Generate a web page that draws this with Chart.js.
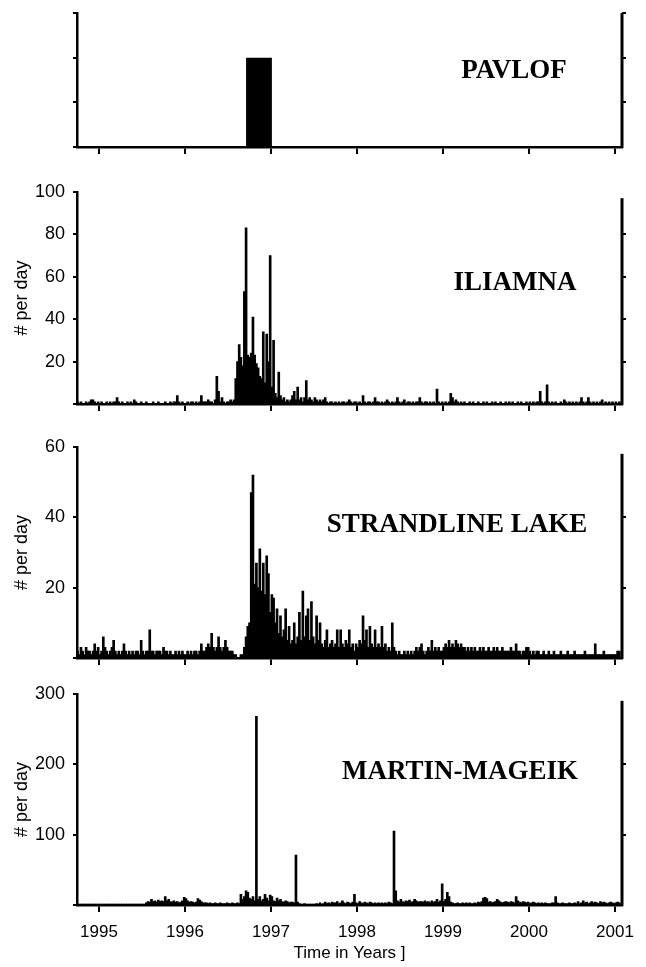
<!DOCTYPE html>
<html>
<head>
<meta charset="utf-8">
<script src="https://cdn.jsdelivr.net/npm/chart.js@4/dist/chart.umd.min.js"></script>
<style>
  body { margin: 0; background: #fff; }
  #page { position: relative; width: 646px; height: 967px; overflow: hidden; }
  canvas { position: absolute; left: 0; }
</style>
</head>
<body>
<div id="page"></div>
<script>
// ---- data -------------------------------------------------------------
// counts are read off the figure in bins of 0.02 yr, first bin centred on 1994.75
const BIN_START = 1994.75;
const BIN_WIDTH = 0.02;
const YEAR_TICKS = [1995, 1996, 1997, 1998, 1999, 2000, 2001];

// Pavlof: a single block during the 1996 eruption
const PAVLOF_START = 1996.71;
const PAVLOF_END = 1997.01;
const PAVLOF_LEVEL = 2;

const ILIAMNA_COUNTS = [
  1,0,1,0,0,1,0,1,2,2,1,0,1,0,1,0,0,1,0,1,0,1,1,3,1,
  0,1,0,0,1,0,1,0,2,1,0,0,1,0,0,1,0,0,0,1,0,0,1,0,0,
  0,1,0,0,1,0,1,1,4,1,0,1,0,0,1,0,1,1,0,1,0,1,4,1,1,
  1,2,1,1,0,2,13,6,1,3,1,0,1,1,2,1,2,12,20,28,22,18,53,83,23,
  22,24,41,23,19,17,13,12,34,10,33,20,70,8,30,5,3,15,4,2,3,1,2,1,2,
  4,6,2,8,2,3,1,3,11,2,3,2,1,3,2,1,2,1,2,3,1,0,1,1,0,
  1,0,1,0,1,1,0,1,2,1,0,1,1,0,1,0,4,1,0,1,1,0,1,3,1,
  1,0,1,0,1,2,1,0,1,0,1,3,1,0,1,2,0,1,1,0,1,0,1,1,3,
  1,0,1,1,0,1,0,1,0,7,1,0,1,0,1,0,1,5,3,1,2,1,0,1,0,
  1,0,0,1,0,1,0,0,1,0,0,1,0,1,0,0,1,0,1,0,0,1,0,0,1,
  0,1,0,1,0,0,1,0,1,0,0,1,0,1,0,1,0,1,1,6,1,0,1,9,1,
  0,1,0,1,0,0,1,0,2,1,0,1,0,1,0,1,0,1,3,1,0,1,3,1,0,
  1,0,1,0,1,2,0,1,0,1,0,1,0,1,0,1
];

const STRANDLINE_COUNTS = [
  2,1,3,2,1,3,2,2,1,2,4,2,3,1,2,6,3,2,1,2,3,5,2,1,2,
  1,2,4,2,1,2,1,2,1,2,2,1,5,2,1,2,2,8,2,2,1,2,2,2,1,
  3,2,2,1,2,1,1,2,1,2,1,2,1,1,2,1,2,1,2,2,1,2,4,2,2,
  3,4,3,7,3,2,3,6,3,2,3,5,3,2,2,2,1,1,0,0,1,1,3,6,9,
  10,47,52,21,27,20,31,19,27,18,29,24,13,18,17,10,14,7,12,6,8,14,5,9,4,
  5,10,4,6,13,5,19,6,12,14,5,16,6,4,12,5,10,4,3,5,8,3,4,5,3,
  4,8,3,8,4,3,5,4,8,3,4,2,4,3,5,4,12,5,8,3,9,4,3,8,3,
  4,3,9,3,4,2,3,2,10,3,2,1,2,1,1,2,1,2,1,2,1,2,3,2,3,
  4,2,1,2,3,2,5,2,3,2,3,2,2,3,4,3,5,3,4,3,5,4,3,4,3,
  3,2,3,2,3,2,3,2,2,3,2,3,2,2,3,2,2,3,2,3,2,2,3,2,2,
  2,2,3,2,2,4,2,2,1,2,2,3,3,2,1,2,1,2,2,1,1,2,1,1,2,
  1,1,2,1,1,1,2,1,1,1,2,1,1,1,2,1,1,1,1,1,2,1,1,1,1,
  1,4,1,1,1,1,2,1,1,1,1,1,1,1,2,2
];

const MARTIN_COUNTS = [
  1,1,1,1,1,1,1,1,1,1,1,1,1,1,1,1,1,1,1,1,1,1,1,1,1,
  1,1,1,1,1,1,1,1,1,1,1,1,1,1,1,3,5,4,8,5,6,4,7,5,6,
  5,12,6,8,5,4,6,4,5,3,4,6,11,9,6,4,5,4,3,4,9,7,5,3,3,
  3,2,3,2,2,3,2,2,3,2,2,2,3,2,2,3,2,2,3,2,15,8,12,20,18,
  10,8,12,6,268,8,12,6,8,15,10,6,14,12,6,5,10,6,8,5,4,6,5,3,4,
  4,3,71,4,2,1,1,2,1,1,1,1,1,1,2,1,3,1,2,4,2,3,2,4,3,
  3,5,2,3,6,3,2,4,3,2,4,15,3,2,5,3,2,4,3,2,4,3,2,3,2,
  3,2,3,2,3,2,4,3,2,105,20,6,4,8,5,4,6,5,7,4,5,8,6,4,5,
  5,4,6,4,5,3,6,4,5,8,4,6,30,5,8,18,12,4,3,2,2,3,2,2,3,
  2,3,2,3,2,2,3,2,4,3,5,10,11,9,4,5,3,4,5,8,6,4,3,4,5,
  4,3,5,4,3,12,6,4,3,5,4,3,4,2,3,4,3,2,3,2,3,2,3,2,2,
  2,3,3,12,3,2,2,3,2,2,2,3,2,2,3,2,5,2,3,6,3,4,2,3,5,
  3,4,3,2,5,3,4,3,2,3,4,3,2,3,4,3
];

const PAVLOF_TICKS = [0, 1, 2, 3];
const ILIAMNA_TICKS = [0, 20, 40, 60, 80, 100];
const STRANDLINE_TICKS = [0, 20, 40, 60];
const MARTIN_TICKS = [0, 100, 200, 300];

// ---- layout -----------------------------------------------------------
const PAGE_W = 646;
const AXIS_LEFT = 77;
const AXIS_RIGHT = 622;
const X_MIN = 1994.744;
const X_MAX = 2001.081;
const SANS = "'Liberation Sans', Arial, Helvetica, sans-serif";
const SERIF = "'Liberation Serif', 'Times New Roman', serif";

const toBins = (counts) => counts.map((y, i) => ({ x: BIN_START + i * BIN_WIDTH, y }));

// draws the volcano name inside the panel
const panelName = {
  id: "panelName",
  afterDraw(chart, args, opts) {
    const { ctx } = chart;
    ctx.save();
    ctx.font = `bold 27px ${SERIF}`;
    ctx.fillStyle = "#000";
    ctx.textAlign = "center";
    ctx.textBaseline = "middle";
    ctx.fillText(opts.text, opts.x, opts.y);
    ctx.restore();
  },
};

// right-hand frame line, which stops a little below the top of the panel
const rightAxisLine = {
  id: "rightAxisLine",
  afterDatasetsDraw(chart, args, opts) {
    const { ctx, chartArea, scales } = chart;
    const yTop = scales.y.getPixelForValue(opts.top);
    ctx.save();
    ctx.strokeStyle = "#000";
    ctx.lineWidth = 3;
    ctx.beginPath();
    ctx.moveTo(chartArea.right, chartArea.bottom + 1);
    ctx.lineTo(chartArea.right, yTop);
    ctx.stroke();
    ctx.restore();
  },
};

const PANELS = [
  { name: "PAVLOF", top: 13, bottom: 147, padTop: 10, padBottom: 20,
    ticks: PAVLOF_TICKS, rightTop: 3, yTitle: false, yLabels: false, xLabels: false,
    nameX: 514, nameY: 71 },
  { name: "ILIAMNA", top: 185, bottom: 404, padTop: 12, padBottom: 20,
    ticks: ILIAMNA_TICKS, rightTop: 97, yTitle: true, yLabels: true, xLabels: false,
    nameX: 515, nameY: 283 },
  { name: "STRANDLINE LAKE", top: 440, bottom: 658, padTop: 12, padBottom: 20,
    ticks: STRANDLINE_TICKS, rightTop: 58, yTitle: true, yLabels: true, xLabels: false,
    nameX: 457, nameY: 525 },
  { name: "MARTIN-MAGEIK", top: 687, bottom: 905, padTop: 12, padBottom: 62,
    ticks: MARTIN_TICKS, rightTop: 290, yTitle: true, yLabels: true, xLabels: true,
    nameX: 460, nameY: 772 },
];
PANELS[1].counts = ILIAMNA_COUNTS;
PANELS[2].counts = STRANDLINE_COUNTS;
PANELS[3].counts = MARTIN_COUNTS;

const page = document.getElementById("page");

PANELS.forEach((p) => {
  const canvasTop = p.top - p.padTop;
  const height = p.bottom - p.top + p.padTop + p.padBottom;
  const canvas = document.createElement("canvas");
  canvas.width = PAGE_W;
  canvas.height = height;
  canvas.style.top = canvasTop + "px";
  canvas.style.width = PAGE_W + "px";
  canvas.style.height = height + "px";
  page.appendChild(canvas);

  const yMax = p.ticks[p.ticks.length - 1];

  const dataset = p.counts
    ? {
        type: "bar",
        data: toBins(p.counts),
        backgroundColor: "#000",
        borderWidth: 0,
        barThickness: 2,
        grouped: false,
      }
    : {
        type: "line",
        data: [
          { x: PAVLOF_START, y: 0 },
          { x: PAVLOF_START, y: PAVLOF_LEVEL },
          { x: PAVLOF_END, y: PAVLOF_LEVEL },
          { x: PAVLOF_END, y: 0 },
        ],
        fill: "origin",
        backgroundColor: "#000",
        borderWidth: 0,
        pointRadius: 0,
        tension: 0,
      };

  new Chart(canvas, {
    type: "bar",
    data: { datasets: [dataset] },
    plugins: [panelName, rightAxisLine],
    options: {
      responsive: false,
      animation: false,
      devicePixelRatio: 1,
      layout: { padding: { top: p.padTop, left: 0, right: 0, bottom: 0 } },
      plugins: {
        legend: { display: false },
        tooltip: { enabled: false },
        panelName: { text: p.name, x: p.nameX, y: p.nameY - canvasTop },
        rightAxisLine: { top: p.rightTop },
      },
      scales: {
        x: {
          type: "linear",
          offset: false,
          min: X_MIN,
          max: X_MAX,
          afterBuildTicks: (s) => { s.ticks = YEAR_TICKS.map((value) => ({ value })); },
          afterFit: (s) => { s.height = p.padBottom; },
          grid: { display: true, offset: false, drawOnChartArea: false, drawTicks: true, tickLength: 7, lineWidth: 2, color: "#000" },
          border: { display: true, color: "#000", width: 2.5 },
          ticks: {
            display: p.xLabels,
            autoSkip: false,
            maxRotation: 0,
            padding: 10,
            color: "#000",
            font: { family: SANS, size: 17 },
            callback: (v) => String(v),
          },
          title: {
            display: p.xLabels,
            text: "Time in Years ]",
            color: "#000",
            font: { family: SANS, size: 17 },
            padding: { top: 0, bottom: 3 },
          },
        },
        y: {
          position: "left",
          min: 0,
          max: yMax,
          afterBuildTicks: (s) => { s.ticks = p.ticks.map((value) => ({ value })); },
          afterFit: (s) => { s.width = AXIS_LEFT; },
          grid: { display: true, drawOnChartArea: false, drawTicks: true, tickLength: 4, lineWidth: 2, color: "#000" },
          border: { display: true, color: "#000", width: 2.5 },
          ticks: {
            display: p.yLabels,
            padding: 8,
            color: "#000",
            font: { family: SANS, size: 18 },
            callback: (v) => (v === 0 ? "" : String(v)),
          },
          title: {
            display: p.yTitle,
            text: "# per day",
            color: "#000",
            font: { family: SANS, size: 18 },
            padding: { top: 11, bottom: 0 },
          },
        },
        y2: {
          position: "right",
          min: 0,
          max: yMax,
          afterBuildTicks: (s) => {
            s.ticks = p.ticks.filter((v) => v > 0 && v <= p.rightTop).map((value) => ({ value }));
          },
          afterFit: (s) => { s.width = PAGE_W - AXIS_RIGHT; },
          grid: { display: true, drawOnChartArea: false, drawTicks: true, tickLength: 4, lineWidth: 2, color: "#000" },
          border: { display: false },
          ticks: { display: false },
        },
      },
    },
  });
});
</script>
</body>
</html>
